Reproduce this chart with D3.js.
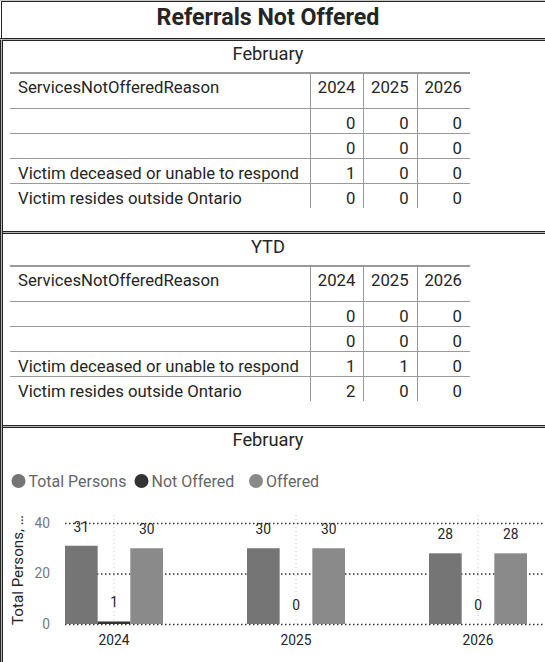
<!DOCTYPE html>
<html>
<head>
<meta charset="utf-8">
<script src="https://cdn.jsdelivr.net/npm/d3@7"></script>
<style>
  body { margin: 0; background: #fff; }
  svg { display: block; }
</style>
</head>
<body>
<script>
// ---- data ----
const years = ['2024', '2025', '2026'];
const reasons = ['', '', 'Victim deceased or unable to respond', 'Victim resides outside Ontario'];
const febValues = [[0, 0, 0], [0, 0, 0], [1, 0, 0], [0, 0, 0]];
const ytdValues = [[0, 0, 0], [0, 0, 0], [1, 1, 0], [2, 0, 0]];
const seriesNames = ['Total Persons', 'Not Offered', 'Offered'];
const totalPersons = [31, 30, 28];
const notOffered = [1, 0, 0];
const offered = [30, 30, 28];
const yTicks = [0, 20, 40];

const FONT = "'Segoe UI', Roboto, sans-serif";
const W = 545, H = 662;
const svg = d3.select('body').append('svg').attr('width', W).attr('height', H);

// pick a font size so that a sample string has the width seen in the picture
function fitFont(sample, target, weight) {
  const t = svg.append('text').attr('font-family', FONT)
    .attr('font-weight', weight || 'normal').attr('font-size', 20).text(sample);
  const w = t.node().getComputedTextLength();
  t.remove();
  return 20 * target / w;
}
const titleSize = fitFont('Referrals Not Offered', 223, 'bold');
const headSize = fitFont('February', 71);
const tableSize = fitFont('Victim deceased or unable to respond', 281);
const legendSize = fitFont('Total Persons', 98);
const axisSize = fitFont('2024', 31);
const yTitleSize = fitFont('Total Persons, \u2026', 110);

// ---- panel frames ----
function hline(y, x1, x2, color, w) {
  svg.append('line').attr('x1', x1).attr('x2', x2).attr('y1', y).attr('y2', y)
    .attr('stroke', color).attr('stroke-width', w || 1);
}
function vline(x, y1, y2, color, w) {
  svg.append('line').attr('x1', x).attr('x2', x).attr('y1', y1).attr('y2', y2)
    .attr('stroke', color).attr('stroke-width', w || 1);
}
hline(0.5, 0, W, '#c8c8c8');
hline(1.5, 1, W, '#252525');
[[38.5, 40.5], [231.5, 233.5], [425.5, 427.5]].forEach(([a, b]) => {
  hline(a, 0, W, '#252525');
  hline(a + 1, 0, W, '#b4b4b4');
  hline(b, 0, W, '#252525');
});
vline(1.5, 1, 39, '#252525');
vline(0.5, 40, H, '#252525');
vline(1.5, 40, H, '#b4b4b4');
vline(2.5, 40, H, '#252525');

// ---- title ----
svg.append('text').attr('x', 268).attr('y', 25).attr('text-anchor', 'middle')
  .attr('font-family', FONT).attr('font-weight', 'bold').attr('font-size', titleSize)
  .attr('fill', '#252525').text('Referrals Not Offered');

// ---- tables ----
function drawTable(top, heading, values) {
  const g = svg.append('g');
  g.append('text').attr('x', 268).attr('y', top + 20).attr('text-anchor', 'middle')
    .attr('font-family', FONT).attr('font-size', headSize).attr('fill', '#252525').text(heading);

  const tTop = top + 33, hBottom = top + 68;
  const col = d3.scaleBand().domain(years).range([310, 470]);
  const row = d3.scaleBand().domain(d3.range(reasons.length)).range([hBottom, hBottom + 25 * reasons.length]);

  hline(tTop, 10, 470, '#999', 2);
  row.domain().forEach(i => hline(row(i) + 0.5, 10, 470, '#999'));
  years.forEach(y => vline(Math.round(col(y)) + 0.5, tTop, row(reasons.length - 1) + row.bandwidth(), '#999'));

  g.append('text').attr('x', 18).attr('y', tTop + 20).attr('font-family', FONT)
    .attr('font-size', tableSize).attr('fill', '#252525').text('ServicesNotOfferedReason');
  g.selectAll('text.yr').data(years).join('text').attr('class', 'yr')
    .attr('x', d => col(d) + col.bandwidth() - 8).attr('y', tTop + 20)
    .attr('text-anchor', 'end').attr('font-family', FONT).attr('font-size', tableSize)
    .attr('fill', '#252525').text(d => d);

  const rows = g.selectAll('g.row').data(values).join('g').attr('class', 'row')
    .attr('transform', (d, i) => `translate(0,${row(i) + 20.5})`);
  rows.append('text').attr('x', 18).attr('font-family', FONT).attr('font-size', tableSize)
    .attr('fill', '#252525').text((d, i) => reasons[i]);
  rows.selectAll('text.v').data(d => d).join('text').attr('class', 'v')
    .attr('x', (d, j) => col(years[j]) + col.bandwidth() - 8).attr('text-anchor', 'end')
    .attr('font-family', FONT).attr('font-size', tableSize).attr('fill', '#252525').text(d => d);
}
drawTable(40, 'February', febValues);
drawTable(233, 'YTD', ytdValues);

// ---- chart ----
svg.append('text').attr('x', 268).attr('y', 446).attr('text-anchor', 'middle')
  .attr('font-family', FONT).attr('font-size', headSize).attr('fill', '#252525').text('February');

const colors = d3.scaleOrdinal().domain(seriesNames).range(['#757575', '#333333', '#8a8a8a']);

// legend
const legendX = [18.5, 141.5, 256];
const leg = svg.selectAll('g.leg').data(seriesNames).join('g').attr('class', 'leg')
  .attr('transform', (d, i) => `translate(${legendX[i]},481)`);
leg.append('circle').attr('r', 7).attr('fill', d => colors(d));
leg.append('text').attr('x', 10).attr('dy', '0.35em').attr('font-family', FONT)
  .attr('font-size', legendSize).attr('fill', '#666').text(d => d);

const plotLeft = 65, plotRight = W, y0 = 624, yTop = 513;
const x0 = d3.scaleBand().domain(years).range([plotLeft, 527]).paddingInner(84 / 182).paddingOuter(0);
const x1 = d3.scaleBand().domain(seriesNames).range([0, x0.bandwidth()]);
const y = d3.scaleLinear().domain([0, 40]).range([y0, 523]);

// x grid (vertical dotted) + labels
const xAxis = svg.append('g').attr('transform', `translate(0,${y0})`)
  .call(d3.axisBottom(x0).tickSize(-(y0 - yTop)).tickPadding(11));
xAxis.select('.domain').remove();
xAxis.selectAll('line').attr('stroke', '#c8c8c8').attr('stroke-dasharray', '1,3');
xAxis.selectAll('text').attr('font-family', FONT).attr('font-size', axisSize).attr('fill', '#252525');

// y grid (horizontal dotted) + labels
const yAxis = svg.append('g').attr('transform', `translate(${plotLeft},0)`)
  .call(d3.axisLeft(y).tickValues(yTicks).tickSize(-(plotRight - plotLeft)).tickPadding(15));
yAxis.select('.domain').remove();
yAxis.selectAll('line').attr('stroke', '#333').attr('stroke-width', 1.5).attr('stroke-dasharray', '1.5,2.5');
yAxis.selectAll('text').attr('font-family', FONT).attr('font-size', axisSize).attr('fill', '#777');

// y axis title
svg.append('text').attr('transform', `translate(23,${y0 + 1}) rotate(-90)`)
  .attr('font-family', FONT).attr('font-size', yTitleSize).attr('fill', '#252525')
  .text('Total Persons, \u2026');

// bars
const table = years.map((yr, i) => ({
  year: yr,
  values: [totalPersons[i], notOffered[i], offered[i]].map((v, k) => ({ key: seriesNames[k], value: v }))
}));
const groups = svg.selectAll('g.grp').data(table).join('g').attr('class', 'grp')
  .attr('transform', d => `translate(${x0(d.year)},0)`);
groups.selectAll('rect').data(d => d.values).join('rect')
  .attr('x', d => x1(d.key)).attr('width', x1.bandwidth())
  .attr('y', d => y(d.value)).attr('height', d => y0 - y(d.value))
  .attr('fill', d => colors(d.key));
groups.selectAll('text').data(d => d.values).join('text')
  .attr('x', d => x1(d.key) + x1.bandwidth() / 2).attr('y', d => y(d.value) - 14)
  .attr('text-anchor', 'middle').attr('font-family', FONT).attr('font-size', axisSize)
  .attr('fill', '#252525').text(d => d.value);
</script>
</body>
</html>
